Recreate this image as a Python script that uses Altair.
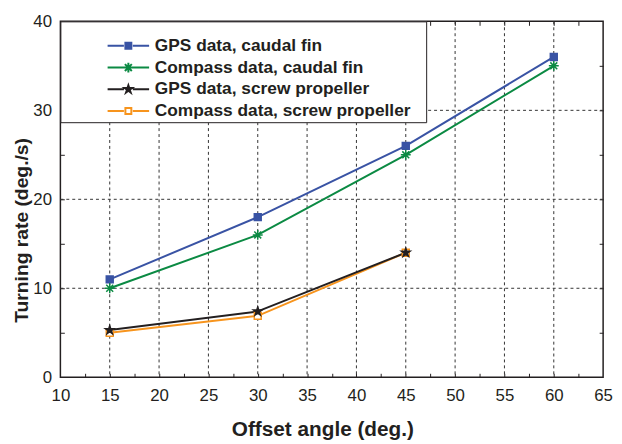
import altair as alt
import pandas as pd

# ---- data ----
series_names = ["GPS data, caudal fin", "Compass data, caudal fin",
                "GPS data, screw propeller", "Compass data, screw propeller"]
x_caudal = [15, 30, 45, 60]
gps_caudal = [11, 18, 26, 36]
compass_caudal = [10, 16, 25, 35]
x_screw = [15, 30, 45]
gps_screw = [5.3, 7.4, 14]
compass_screw = [5.0, 6.9, 14]

x_ticks = [10, 15, 20, 25, 30, 35, 40, 45, 50, 55, 60, 65]
y_ticks = [0, 10, 20, 30, 40]
x_grid = [15, 20, 25, 30, 35, 40, 45, 50, 55, 60]
y_grid = [10, 20, 30]
x_minor = [12.5 + 2.5 * i for i in range(21)]
y_minor = [5, 10, 15, 20, 25, 30, 35]

colors = ["#3953a4", "#0b8a43", "#231f20", "#f7941d"]
fills = ["#3953a4", "transparent", "#231f20", "#ffffff"]

rows = []
# drawing order: the black star series is drawn last so it sits on top
for name, xs, ys in [(series_names[0], x_caudal, gps_caudal),
                     (series_names[1], x_caudal, compass_caudal),
                     (series_names[3], x_screw, compass_screw),
                     (series_names[2], x_screw, gps_screw)]:
    for a, b in zip(xs, ys):
        rows.append({"series": name, "angle": a, "rate": b})
df = pd.DataFrame(rows)

# marker paths (unit square -1..1)
SQ = "M-0.7,-0.7H0.7V0.7H-0.7Z"
AST = "M-1,0H1M0,-1V1M-0.7,-0.7L0.7,0.7M-0.7,0.7L0.7,-0.7"
STAR = ("M0,-0.9L0.2,-0.28L0.86,-0.28L0.32,0.1L0.53,0.73L0,0.34"
        "L-0.53,0.73L-0.32,0.1L-0.86,-0.28L-0.2,-0.28Z")
shapes = [SQ, AST, STAR, SQ]

# legend symbols: line stub + marker + line stub
STUB = "M-4.2,0H-0.9M0.9,0H4.2"
LSQ = "M-0.6,-0.6H0.6V0.6H-0.6Z"
LSTAR = ("M0,-0.8L0.18,-0.25L0.76,-0.25L0.28,0.09L0.47,0.65L0,0.3"
         "L-0.47,0.65L-0.28,0.09L-0.76,-0.25L-0.18,-0.25Z")
leg_paths = [STUB + LSQ,
             "M-4.2,0H4.2M0,-1V1M-0.7,-0.7L0.7,0.7M-0.7,0.7L0.7,-0.7",
             STUB + LSTAR,
             STUB + LSQ]

FONT = "Liberation Sans, Arial, sans-serif"

xscale = alt.Scale(domain=[10, 65], nice=False, zero=False)
yscale = alt.Scale(domain=[0, 40], nice=False)

lines = alt.Chart(df).mark_line(strokeWidth=2).encode(
    x=alt.X("angle:Q", scale=xscale,
            axis=alt.Axis(values=x_ticks, title="Offset angle (deg.)",
                          grid=False, ticks=False, domain=False,
                          labelFontSize=17, labelPadding=11, labelFont=FONT,
                          labelColor="#231f20", labelFlush=False,
                          titleFont=FONT, titleFontSize=21, titleFontWeight="bold",
                          titleColor="#231f20", titleY=59, titleX=265,
                          titleBaseline="alphabetic")),
    y=alt.Y("rate:Q", scale=yscale,
            axis=alt.Axis(values=y_ticks, title="Turning rate (deg./s)",
                          grid=False, ticks=False, domain=False,
                          labelFontSize=17, labelPadding=9, labelFont=FONT,
                          labelColor="#231f20", labelFlush=False,
                          titleFont=FONT, titleFontSize=19.5, titleFontWeight="bold",
                          titleColor="#231f20", titleX=-33, titleY=211,
                          titleBaseline="alphabetic")),
    stroke=alt.Stroke("series:N", scale=alt.Scale(domain=series_names, range=colors),
                      legend=None),
    detail="series:N",
)

grid_x = alt.Chart(pd.DataFrame({"g": x_grid})).mark_rule(
    color="#333333", strokeWidth=1, strokeDash=[3, 3]
).encode(x=alt.X("g:Q", scale=xscale, axis=None))
grid_y = alt.Chart(pd.DataFrame({"g": y_grid})).mark_rule(
    color="#333333", strokeWidth=1, strokeDash=[3, 3]
).encode(y=alt.Y("g:Q", scale=yscale, axis=None))

legend = alt.Legend(
    title=" ", titleFontSize=9, titlePadding=5,
    orient="top-left", offset=0, padding=2,
    strokeColor="#231f20", fillColor="white",
    labelFont=FONT, labelFontSize=17.5, labelFontWeight="bold", labelColor="#231f20",
    labelExpr="datum.label + '\u2800'",
    symbolSize=100, symbolStrokeWidth=2, symbolOffset=58, labelOffset=18,
    symbolOpacity=1, rowPadding=3, labelLimit=400,
)

points = alt.Chart(df).mark_point(size=100, strokeWidth=1.5, opacity=1).encode(
    x=alt.X("angle:Q", scale=xscale,
            axis=alt.Axis(orient="top", values=x_minor, labels=False, grid=False,
                          domain=False, tickSize=4, offset=-4, title=None,
                          tickColor="#231f20")),
    y=alt.Y("rate:Q", scale=yscale,
            axis=alt.Axis(orient="right", values=y_minor, labels=False, grid=False,
                          domain=False, tickSize=4, offset=-4, title=None,
                          tickColor="#231f20")),
    stroke=alt.Stroke("series:N", scale=alt.Scale(domain=series_names, range=colors),
                      legend=None),
    fill=alt.Fill("series:N", scale=alt.Scale(domain=series_names, range=fills),
                  legend=None),
    shape=alt.Shape("series:N", scale=alt.Scale(domain=series_names, range=shapes),
                    legend=None),
)

# invisible layer: inward minor ticks on bottom/left, and the legend
minor = alt.Chart(df).mark_point(opacity=0, size=100).encode(
    x=alt.X("angle:Q", scale=xscale,
            axis=alt.Axis(orient="bottom", values=x_minor, labels=False, grid=False,
                          domain=False, tickSize=4, offset=-4, title=None,
                          tickColor="#231f20")),
    y=alt.Y("rate:Q", scale=yscale,
            axis=alt.Axis(orient="left", values=y_minor, labels=False, grid=False,
                          domain=False, tickSize=4, offset=-4, title=None,
                          tickColor="#231f20")),
    stroke=alt.Stroke("series:N", scale=alt.Scale(domain=series_names, range=colors),
                      legend=legend),
    fill=alt.Fill("series:N", scale=alt.Scale(domain=series_names, range=fills),
                  legend=legend),
    shape=alt.Shape("series:N", scale=alt.Scale(domain=series_names, range=leg_paths),
                    legend=legend),
)

chart = alt.layer(grid_x, grid_y, lines, points, minor).resolve_axis(
    x="independent", y="independent"
).resolve_scale(
    stroke="independent", fill="independent", shape="independent"
).properties(
    width=549, height=360,
    autosize=alt.AutoSizeParams(type="none"),
    padding={"left": 53, "top": 11, "right": 11, "bottom": 64},
    background="white",
).configure_view(stroke="#231f20", strokeWidth=1.5)

chart.save("out.html", embed_options={"renderer": "svg", "actions": False})
